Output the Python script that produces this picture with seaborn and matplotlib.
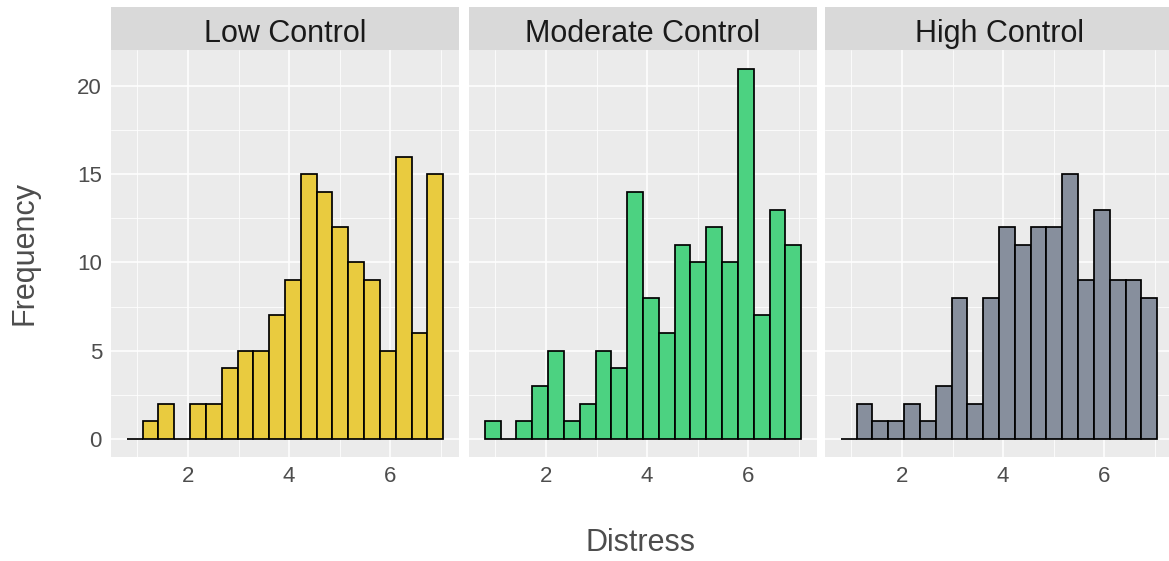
import numpy as np
import pandas as pd
import matplotlib
matplotlib.use("Agg")
import matplotlib.pyplot as plt
from matplotlib.ticker import MultipleLocator, FixedLocator
import seaborn as sns

# Facet labels and fills
groups = ["Low Control", "Moderate Control", "High Control"]
fill_colors = ["#E9CB3F", "#4CD281", "#878F9D"]

# Shared histogram bins (20 bins over the Distress range)
bin_edges = [float(v) for v in np.linspace(0.79, 7.05, 21)]

# Counts per bin for each control group
low_counts = [0, 1, 2, 0, 2, 2, 4, 5, 5, 7, 9, 15, 14, 12, 10, 9, 5, 16, 6, 15]
moderate_counts = [1, 0, 1, 3, 5, 1, 2, 5, 4, 14, 8, 6, 11, 10, 12, 10, 21, 7, 13, 11]
high_counts = [0, 2, 1, 1, 2, 1, 3, 8, 2, 8, 12, 11, 12, 12, 15, 9, 13, 9, 9, 8]

x_ticks = [2, 4, 6]
y_ticks = [0, 5, 10, 15, 20]

edges = np.array(bin_edges)
centers = (edges[:-1] + edges[1:]) / 2
df = pd.concat(
    [
        pd.DataFrame({"group": g, "Distress": centers, "count": c})
        for g, c in zip(groups, [low_counts, moderate_counts, high_counts])
    ],
    ignore_index=True,
)

sns.set_style("white")
plt.rcParams["font.family"] = ["Liberation Sans", "DejaVu Sans"]

W, H = 1169, 561
fig = plt.figure(figsize=(W / 100, H / 100), dpi=100)

panel_lefts = [111, 469, 825]
panel_w = 348
panel_top, panel_bottom = 50, 457.3
strip_top = 6.7

span = edges[-1] - edges[0]
xlim = (edges[0] - 0.05 * span, edges[-1] + 0.05 * span)
ymax = max(max(low_counts), max(moderate_counts), max(high_counts))
ylim = (-0.05 * ymax, 1.05 * ymax)

for i, (g, col) in enumerate(zip(groups, fill_colors)):
    left = panel_lefts[i]
    ax = fig.add_axes([left / W, 1 - panel_bottom / H, panel_w / W, (panel_bottom - panel_top) / H])
    sub = df[df["group"] == g]
    sns.histplot(
        data=sub, x="Distress", weights="count", bins=bin_edges,
        color=col, edgecolor="black", linewidth=1.25, alpha=1, ax=ax,
    )
    ax.set_facecolor("#EBEBEB")
    ax.set_axisbelow(True)
    for s in ax.spines.values():
        s.set_visible(False)
    ax.set_xlim(*xlim)
    ax.set_ylim(*ylim)
    ax.xaxis.set_major_locator(FixedLocator(x_ticks))
    ax.xaxis.set_minor_locator(MultipleLocator(2, offset=1))
    ax.yaxis.set_major_locator(FixedLocator(y_ticks))
    ax.yaxis.set_minor_locator(MultipleLocator(5, offset=2.5))
    ax.grid(which="major", color="white", linewidth=1.1)
    ax.grid(which="minor", color="white", linewidth=0.55)
    ax.tick_params(which="major", length=3.5, width=0.8, color="#333333",
                   labelsize=16, labelcolor="#4D4D4D", pad=3)
    ax.tick_params(which="minor", length=0)
    ax.set_xlabel("")
    ax.set_ylabel("")
    if i > 0:
        ax.tick_params(axis="y", labelleft=False, length=0)

    # facet strip
    sax = fig.add_axes([left / W, 1 - panel_top / H, panel_w / W, (panel_top - strip_top) / H])
    sax.set_facecolor("#D9D9D9")
    sax.set_xticks([])
    sax.set_yticks([])
    for s in sax.spines.values():
        s.set_visible(False)
    sax.text(0.5, (panel_top - 41.7) / (panel_top - strip_top), g, ha="center", va="baseline",
             fontsize=22, color="#1A1A1A", transform=sax.transAxes)

fig.text(641 / W, 1 - 551 / H, "Distress", ha="center", va="baseline", fontsize=22, color="#4D4D4D")
fig.text(24 / W, 1 - 253 / H, "Frequency", ha="center", va="center", fontsize=22,
         color="#4D4D4D", rotation=90)

fig.savefig("out.png", dpi=100, facecolor="white")
